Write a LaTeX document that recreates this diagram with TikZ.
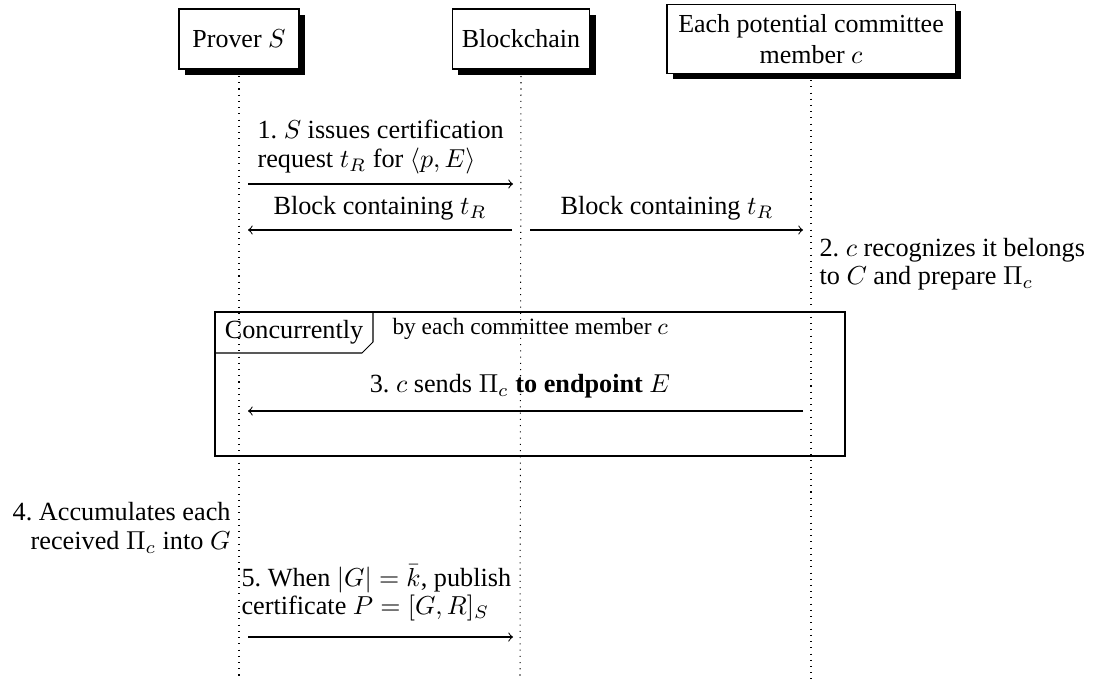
\documentclass[tikz,border=0pt]{standalone}
\usepackage{fontspec}
\setmainfont{Liberation Serif}
\usetikzlibrary{shadows}
\frenchspacing
\begin{document}
\begin{tikzpicture}[x=0.385pt,y=-0.385pt,
  thread/.style={draw,fill=white,line width=0.4pt,inner sep=0pt,align=center,
    drop shadow={opacity=1,fill=black,shadow xshift=2.3pt,shadow yshift=-2.3pt}},
  lifeline/.style={dotted,line width=0.4pt},
  msg/.style={->,line width=0.4pt},
  lbl/.style={inner sep=0pt,font=\fontsize{10.1}{11}\selectfont},
  frameline/.style={line width=0.4pt}
]
\useasboundingbox (0,0) rectangle (1095,681);

% participants
\node[thread,minimum width=46.2pt,minimum height=23.1pt] (prover) at (239,39) {Prover $S$};
\node[thread,minimum width=53.1pt,minimum height=23.1pt] (chain) at (521,39) {Blockchain};
\node[thread,minimum width=110.9pt,minimum height=26.2pt] (comm) at (811,39) {Each potential committee\\member $c$};

% lifelines
\coordinate (pe) at (239,679);
\coordinate (ce) at (520,679);
\coordinate (me) at (811,679);
\draw[lifeline] ([yshift=-2.5pt]prover.south) -- (pe);
\draw[lifeline] ([yshift=-2.5pt]chain.south) -- (ce);
\draw[lifeline] ([yshift=-2.5pt]comm.south) -- (me);

% message 1
\node[lbl,anchor=west,align=left] (t1) at (257,147) {1. $S$ issues certification\\request $t_R$ for $\langle p, E\rangle$};
\coordinate (m1s) at (248,184);
\coordinate (m1e) at (513,184);
\draw[msg] (m1s) -- (m1e);

% block containing
\node[lbl] (t2a) at (380,208) {Block containing $t_R$};
\coordinate (m2s) at (512,230);
\coordinate (m2e) at (248,230);
\draw[msg] (m2s) -- (m2e);
\node[lbl] (t2b) at (667,208) {Block containing $t_R$};
\coordinate (m3s) at (530,230);
\coordinate (m3e) at (803,230);
\draw[msg] (m3s) -- (m3e);

% step 2
\node[lbl,anchor=west,align=left] (t3) at (819,264) {2. $c$ recognizes it belongs\\to $C$ and prepare $\Pi_c$};

% concurrently frame
\coordinate (fa) at (215,312);
\coordinate (fb) at (845,456);
\draw[frameline] (fa) rectangle (fb);
\coordinate (l1) at (215,353);
\coordinate (l2) at (362,353);
\coordinate (l3) at (373,342);
\coordinate (l4) at (373,312);
\draw[frameline] (l1) -- (l2) -- (l3) -- (l4);
\node[lbl] (ftitle) at (294,332) {Concurrently};
\node[lbl,anchor=west,font=\small] (fsub) at (392,329) {by each committee member $c$};

% message 3
\node[lbl] (t4) at (520,386) {3. $c$ sends $\Pi_c$ \textbf{to endpoint} $E$};
\coordinate (m4s) at (803,411);
\coordinate (m4e) at (248,411);
\draw[msg] (m4s) -- (m4e);

% step 4
\node[lbl,anchor=east,align=right] (t5) at (231,528) {4. Accumulates each\\received $\Pi_c$ into $G$};

% step 5
\node[lbl,anchor=west,align=left] (t6) at (241,593) {5. When $|G| = \bar{k}$, publish\\certificate $P = [G, R]_S$};
\coordinate (m5s) at (248,637);
\coordinate (m5e) at (513,637);
\draw[msg] (m5s) -- (m5e);
\end{tikzpicture}
\end{document}
